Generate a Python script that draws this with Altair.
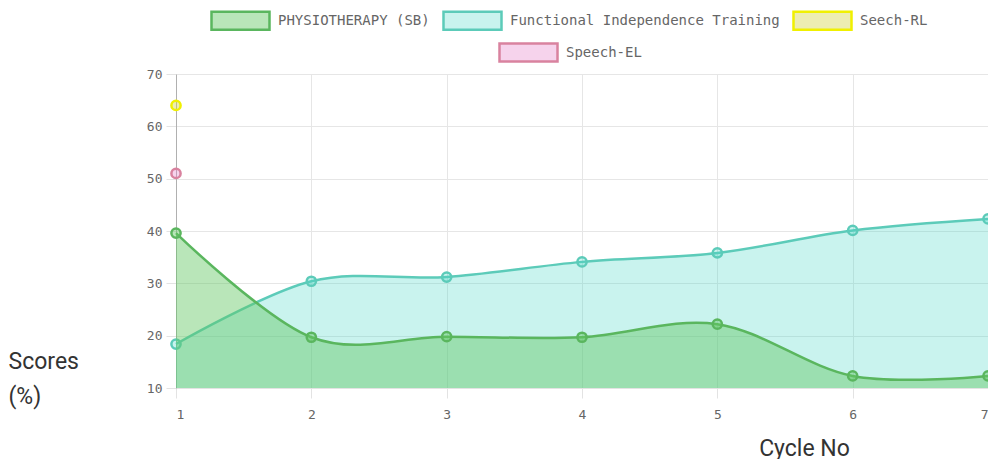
import altair as alt
import pandas as pd

# ---- data ----
cycles = [1, 2, 3, 4, 5, 6, 7]
physio = [39.6, 19.7, 19.8, 19.7, 22.2, 12.3, 12.3]
fit = [18.4, 30.4, 31.2, 34.1, 35.8, 40.1, 42.3]
rl_cycles = [1]
rl_scores = [64]
el_cycles = [1]
el_scores = [51]

series_names = ["PHYSIOTHERAPY (SB)", "Functional Independence Training", "Seech-RL", "Speech-EL"]
stroke_colors = ["#5ab65e", "#5ccbb9", "#f0f000", "#d9829f"]
fill_colors = ["rgba(100,200,100,0.45)", "rgba(75,215,200,0.3)",
               "rgba(210,210,60,0.4)", "rgba(230,130,200,0.35)"]
y_ticks = [10, 20, 30, 40, 50, 60, 70]


def frame(name, xs, ys):
    return pd.DataFrame({"series": name, "cycle": xs, "score": ys})


df_physio = frame(series_names[0], cycles, physio)
df_fit = frame(series_names[1], cycles, fit)
df_rl = frame(series_names[2], rl_cycles, rl_scores)
df_el = frame(series_names[3], el_cycles, el_scores)

RECT = "M-1,-0.31L1,-0.31L1,0.31L-1,0.31Z"
MONO = "DejaVu Sans Mono"

main_dom = series_names[:3]
fill_scale = alt.Scale(domain=main_dom, range=fill_colors[:3])
stroke_scale = alt.Scale(domain=main_dom, range=stroke_colors[:3])

legend_common = dict(
    title=None, orient="none", direction="horizontal",
    symbolType=RECT, symbolSize=3364, symbolStrokeWidth=2.5,
    labelFont=MONO, labelFontSize=14, labelColor="#666", labelLimit=0,
    labelOffset=7, columnPadding=8,
)
main_legend = alt.Legend(legendX=34, legendY=-84, **legend_common)
el_legend = alt.Legend(legendX=322, legendY=-52, **legend_common)

x_enc = alt.X(
    "cycle:Q",
    scale=alt.Scale(domain=[1, 7], nice=False, zero=False),
    axis=alt.Axis(
        values=cycles, format="d", title="Cycle No",
        titleFont="Roboto", titleFontSize=23, titleFontWeight="normal",
        titleColor="#333", titleX=628, titleY=67, titleAlign="center",
        titleBaseline="alphabetic", titleAnchor="start",
        labelFont=MONO, labelFontSize=13, labelColor="#666", labelPadding=10,
        tickSize=10, tickColor="#e3e3e3", gridColor="#e6e6e6",
        domainColor="#e3e3e3",
    ),
)
y_enc = alt.Y(
    "score:Q",
    scale=alt.Scale(domain=[10, 70], nice=False, zero=False),
    axis=alt.Axis(
        values=y_ticks, title=["Scores", "(%)"], titleAngle=0,
        titleFont="Roboto", titleFontSize=23, titleFontWeight="normal",
        titleColor="#333", titleX=-168, titleY=294, titleAlign="left",
        titleBaseline="alphabetic", titleLineHeight=35, titleAnchor="start",
        labelFont=MONO, labelFontSize=13, labelColor="#666", labelPadding=4,
        tickSize=10, tickColor="#e3e3e3", gridColor="#e6e6e6",
        domainColor="#b0b0b0",
    ),
)

fill_enc = alt.Fill("series:N", scale=fill_scale, legend=main_legend)
stroke_enc = alt.Stroke("series:N", scale=stroke_scale, legend=main_legend)


def area_layer(d):
    return alt.Chart(d).mark_area(interpolate="cardinal").encode(
        x=x_enc, y=y_enc, y2=alt.datum(10), fill=fill_enc
    )


def line_layer(d):
    return alt.Chart(d).mark_line(interpolate="cardinal", strokeWidth=2.5).encode(
        x=x_enc, y=y_enc, stroke=stroke_enc
    )


def point_layer(d):
    return alt.Chart(d).mark_point(
        shape="circle", size=85, strokeWidth=2.5, opacity=1, filled=True
    ).encode(x=x_enc, y=y_enc, fill=fill_enc, stroke=stroke_enc)


main = alt.layer(
    area_layer(df_fit), line_layer(df_fit), point_layer(df_fit),
    area_layer(df_physio), line_layer(df_physio), point_layer(df_physio),
    point_layer(df_rl),
)

el_point = alt.Chart(df_el).mark_point(
    shape="circle", size=85, strokeWidth=2.5, opacity=1, filled=True
).encode(
    x=x_enc, y=y_enc,
    fill=alt.Fill("series:N", scale=alt.Scale(domain=[series_names[3]], range=[fill_colors[3]]), legend=el_legend),
    stroke=alt.Stroke("series:N", scale=alt.Scale(domain=[series_names[3]], range=[stroke_colors[3]]), legend=el_legend),
)

chart = alt.layer(main, el_point).resolve_scale(
    fill="independent", stroke="independent"
).properties(
    width=812, height=314,
    autosize=alt.AutoSizeParams(type="none"),
    padding={"left": 168, "top": 66, "right": 0, "bottom": 80},
).configure_view(stroke=None)

chart.save("out.html", embed_options={"renderer": "svg", "actions": False})
